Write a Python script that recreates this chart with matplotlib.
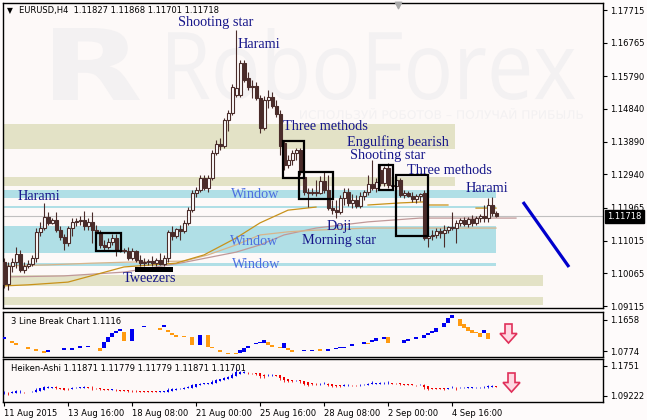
import numpy as np
import matplotlib
matplotlib.use("Agg")
import matplotlib.pyplot as plt
from matplotlib.patches import Rectangle, Polygon, PathPatch
from matplotlib.textpath import TextPath
from matplotlib.font_manager import FontProperties
from matplotlib.transforms import Affine2D

W, H = 647, 420

# EURUSD H4 candles (11 Aug 2015 -> 7 Sep 2015)
opens = [1.1039, 1.0975, 1.1028, 1.1039, 1.1063, 1.1016, 1.1028, 1.1034, 1.1051, 1.1127,
         1.1138, 1.1170, 1.1153, 1.1161, 1.1132, 1.1112, 1.1095, 1.1138, 1.1156, 1.1158,
         1.1161, 1.1144, 1.1156, 1.1132, 1.1124, 1.1089, 1.1083, 1.1097, 1.1109, 1.1074,
         1.1074, 1.1071, 1.1051, 1.1071, 1.1045, 1.1036, 1.1039, 1.1042, 1.1036, 1.1045,
         1.1034, 1.1051, 1.1127, 1.1115, 1.1135, 1.1129, 1.1153, 1.1190, 1.1240, 1.1249,
         1.1283, 1.1254, 1.1283, 1.1356, 1.1382, 1.1376, 1.1452, 1.1472, 1.1525, 1.1525,
         1.1618, 1.1574, 1.1551, 1.1551, 1.1516, 1.1429, 1.1510, 1.1519, 1.1493, 1.1469,
         1.1385, 1.1321, 1.1336, 1.1356, 1.1365, 1.1286, 1.1243, 1.1240, 1.1243, 1.1240,
         1.1275, 1.1249, 1.1196, 1.1190, 1.1185, 1.1225, 1.1243, 1.1211, 1.1220, 1.1202,
         1.1231, 1.1243, 1.1266, 1.1254, 1.1307, 1.1269, 1.1312, 1.1263, 1.1260, 1.1278,
         1.1234, 1.1240, 1.1231, 1.1222, 1.1231, 1.1240, 1.1109, 1.1115, 1.1118, 1.1129,
         1.1124, 1.1132, 1.1141, 1.1138, 1.1153, 1.1161, 1.1150, 1.1164, 1.1153, 1.1167,
         1.1173, 1.1167, 1.1205, 1.11827]
highs = [1.1051, 1.1039, 1.1051, 1.1083, 1.1074, 1.1039, 1.1045, 1.1060, 1.1138, 1.1156,
         1.1211, 1.1185, 1.1167, 1.1185, 1.1144, 1.1121, 1.1144, 1.1167, 1.1167, 1.1173,
         1.1187, 1.1167, 1.1185, 1.1147, 1.1132, 1.1103, 1.1109, 1.1121, 1.1121, 1.1080,
         1.1080, 1.1083, 1.1080, 1.1074, 1.1060, 1.1051, 1.1048, 1.1057, 1.1051, 1.1066,
         1.1060, 1.1132, 1.1144, 1.1138, 1.1147, 1.1161, 1.1199, 1.1249, 1.1257, 1.1292,
         1.1292, 1.1292, 1.1365, 1.1394, 1.1400, 1.1458, 1.1481, 1.1557, 1.1713, 1.1626,
         1.1626, 1.1591, 1.1568, 1.1562, 1.1525, 1.1522, 1.1539, 1.1533, 1.1510, 1.1481,
         1.1394, 1.1350, 1.1365, 1.1371, 1.1371, 1.1292, 1.1254, 1.1254, 1.1278, 1.1289,
         1.1301, 1.1292, 1.1220, 1.1220, 1.1234, 1.1254, 1.1254, 1.1237, 1.1234, 1.1243,
         1.1249, 1.1292, 1.1336, 1.1283, 1.1321, 1.1318, 1.1327, 1.1278, 1.1292, 1.1283,
         1.1249, 1.1246, 1.1243, 1.1237, 1.1240, 1.1249, 1.1127, 1.1132, 1.1138, 1.1138,
         1.1147, 1.1144, 1.1185, 1.1161, 1.1167, 1.1170, 1.1170, 1.1176, 1.1173, 1.1179,
         1.1205, 1.1225, 1.1228, 1.11868]
lows = [1.0964, 1.0958, 1.1010, 1.1022, 1.1010, 1.1007, 1.1022, 1.1028, 1.1039, 1.1115,
        1.1132, 1.1147, 1.1150, 1.1127, 1.1103, 1.1074, 1.1086, 1.1115, 1.1144, 1.1147,
        1.1132, 1.1132, 1.1095, 1.1118, 1.1080, 1.1074, 1.1077, 1.1089, 1.1057, 1.1068,
        1.1066, 1.1045, 1.1045, 1.1039, 1.1028, 1.1028, 1.1031, 1.1028, 1.1028, 1.1031,
        1.1028, 1.1039, 1.1103, 1.1109, 1.1103, 1.1124, 1.1147, 1.1185, 1.1228, 1.1243,
        1.1249, 1.1243, 1.1278, 1.1350, 1.1365, 1.1371, 1.1420, 1.1467, 1.1519, 1.1519,
        1.1562, 1.1539, 1.1516, 1.1510, 1.1414, 1.1423, 1.1487, 1.1487, 1.1461, 1.1350,
        1.1307, 1.1312, 1.1321, 1.1336, 1.1292, 1.1234, 1.1199, 1.1234, 1.1231, 1.1237,
        1.1240, 1.1190, 1.1179, 1.1167, 1.1179, 1.1205, 1.1202, 1.1196, 1.1196, 1.1196,
        1.1220, 1.1234, 1.1249, 1.1243, 1.1260, 1.1260, 1.1254, 1.1254, 1.1249, 1.1228,
        1.1225, 1.1228, 1.1214, 1.1211, 1.1217, 1.1103, 1.1083, 1.1103, 1.1109, 1.1109,
        1.1083, 1.1124, 1.1132, 1.1095, 1.1144, 1.1144, 1.1141, 1.1144, 1.1147, 1.1156,
        1.1156, 1.1156, 1.1173, 1.11701]
closes = [1.0975, 1.1028, 1.1039, 1.1063, 1.1016, 1.1028, 1.1034, 1.1051, 1.1127, 1.1138,
          1.1170, 1.1153, 1.1161, 1.1132, 1.1112, 1.1095, 1.1138, 1.1156, 1.1158, 1.1161,
          1.1144, 1.1156, 1.1132, 1.1124, 1.1089, 1.1083, 1.1097, 1.1109, 1.1074, 1.1072,
          1.1071, 1.1051, 1.1071, 1.1045, 1.1036, 1.1039, 1.1042, 1.1036, 1.1045, 1.1034,
          1.1051, 1.1127, 1.1115, 1.1135, 1.1129, 1.1153, 1.1190, 1.1240, 1.1249, 1.1283,
          1.1254, 1.1283, 1.1356, 1.1382, 1.1376, 1.1452, 1.1472, 1.1548, 1.1545, 1.1618,
          1.1568, 1.1548, 1.1548, 1.1516, 1.1429, 1.1510, 1.1519, 1.1493, 1.1469, 1.1376,
          1.1321, 1.1336, 1.1356, 1.1365, 1.1301, 1.1243, 1.1240, 1.1243, 1.1240, 1.1275,
          1.1249, 1.1196, 1.1190, 1.1185, 1.1225, 1.1243, 1.1211, 1.1220, 1.1202, 1.1231,
          1.1243, 1.1266, 1.1254, 1.1272, 1.1269, 1.1312, 1.1263, 1.1260, 1.1278, 1.1234,
          1.1240, 1.1231, 1.1222, 1.1231, 1.1237, 1.1109, 1.1115, 1.1118, 1.1129, 1.1124,
          1.1132, 1.1141, 1.1138, 1.1153, 1.1161, 1.1150, 1.1164, 1.1153, 1.1167, 1.1173,
          1.1167, 1.1205, 1.1182, 1.11718]

# moving averages (sampled where they are visible)
ma_gold_bar = [0, 6, 16, 30, 43, 50, 58, 64, 71, 78, 84, 91, 99, 105, 106, 111, 114, 118, 123]
ma_gold = [1.0970, 1.0973, 1.0981, 1.1025, 1.1036, 1.1060, 1.1109, 1.1153, 1.1190, 1.1199,
           np.nan, 1.1205, 1.1211, 1.1214, 1.1205, 1.1205, np.nan, 1.1196, 1.1196]
ma_rosy_bar = [0, 15, 30, 44, 58, 64, 70, 78, 91, 104, 128]
ma_rosy = [1.0996, 1.0999, 1.1010, 1.1036, 1.1068, 1.1089, 1.1118, 1.1138, 1.1156, 1.1167, 1.1167]
ma_tan_bar = [0, 11, 22, 31, 45, 51, 58, 64, 71, 78, 91, 123]
ma_tan = [1.1028, 1.1031, 1.1036, 1.1039, 1.1042, 1.1060, 1.1089, 1.1118, 1.1127, 1.1132, 1.1138, 1.1138]

# support / resistance zones
zone_top = [1.1440, 1.1286, 1.1002, 1.0938, 1.1249, 1.1202, 1.1144, 1.1036]
zone_bot = [1.1368, 1.1260, 1.0970, 1.0915, 1.1225, 1.1196, 1.1066, 1.1028]
zone_end = [112.75, 112.75, 134.75, 134.75, 123.0, 123.0, 123.0, 123.0]
zone_kind = ["sand", "sand", "sand", "sand", "sky", "sky", "sky", "sky"]

# 3 line break blocks
lb_bar = [0, 2, 3, 6, 8, 10, 11, 15, 17, 19, 21, 24, 25, 26, 27, 28, 29, 30, 32, 35,
          39, 40, 41, 42, 43, 45, 47, 49, 51, 52, 54, 56, 58, 59, 60, 61, 63, 64, 65, 66,
          67, 69, 70, 71, 72, 75, 77, 79, 81, 83, 84, 85, 87, 90, 91, 92, 93, 95, 96, 100,
          101, 103, 105, 106, 107, 108, 110, 111, 112, 114, 115, 116, 117, 118, 119, 120, 121]
lb_top = [1.1174, 1.1060, 1.1003, 1.0889, 1.0832, 1.0775, 1.0803, 1.0860, 1.0860, 1.0917,
          1.0917, 1.0860, 1.1031, 1.1174, 1.1288, 1.1345, 1.1402, 1.1316, 1.1402, 1.1487,
          1.1430, 1.1516, 1.1373, 1.1288, 1.1231, 1.1202, 1.1174, 1.1231, 1.1231, 1.0889,
          1.0803, 1.0718, 1.0718, 1.0803, 1.0860, 1.0917, 1.1003, 1.1031, 1.1088, 1.1031,
          1.0946, 1.0889, 1.1003, 1.0860, 1.0803, 1.0803, 1.0803, 1.0832, 1.0832, 1.0860,
          1.0889, 1.0889, 1.0974, 1.1031, 1.1003, 1.1088, 1.1145, 1.1174, 1.1174, 1.1088,
          1.1117, 1.1174, 1.1231, 1.1288, 1.1345, 1.1430, 1.1573, 1.1715, 1.1800, 1.1687,
          1.1544, 1.1459, 1.1373, 1.1316, 1.1288, 1.1373, 1.1288]
lb_bot = [1.1117, 1.1003, 1.0946, 1.0832, 1.0775, 1.0718, 1.0746, 1.0803, 1.0803, 1.0860,
          1.0889, 1.0775, 1.0860, 1.1031, 1.1174, 1.1288, 1.1345, 1.1060, 1.1060, 1.1459,
          1.1373, 1.1459, 1.1316, 1.1231, 1.1174, 1.1174, 1.0946, 1.0946, 1.0889, 1.0860,
          1.0746, 1.0689, 1.0689, 1.0718, 1.0746, 1.0860, 1.0974, 1.1003, 1.1003, 1.0946,
          1.0889, 1.0860, 1.0860, 1.0803, 1.0746, 1.0775, 1.0775, 1.0775, 1.0775, 1.0832,
          1.0860, 1.0860, 1.0917, 1.0974, 1.0974, 1.1031, 1.1060, 1.1117, 1.1003, 1.1003,
          1.1060, 1.1117, 1.1145, 1.1231, 1.1288, 1.1316, 1.1459, 1.1573, 1.1715, 1.1487,
          1.1430, 1.1345, 1.1288, 1.1288, 1.1174, 1.1288, 1.1117]
lb_up = [1, 0, 0, 0, 0, 0, 1, 1, 1, 1, 1, 0, 1, 1, 1, 1, 1, 0, 1, 1,
         0, 1, 0, 0, 0, 0, 0, 1, 0, 0, 0, 0, 0, 1, 1, 1, 1, 1, 1, 0,
         0, 0, 1, 0, 0, 1, 1, 0, 1, 1, 1, 1, 1, 1, 0, 1, 1, 1, 0, 1,
         1, 1, 1, 1, 1, 1, 1, 1, 1, 0, 0, 0, 0, 0, 0, 1, 0]

price_ticks = [1.17715, 1.16765, 1.15790, 1.14840, 1.13890, 1.12940, 1.11965, 1.11015, 1.10065, 1.09115]
time_tick_bars = [0, 16, 32, 48, 64, 80, 96, 112]
time_labels = ["11 Aug 2015", "13 Aug 16:00", "18 Aug 08:00", "21 Aug 00:00",
               "25 Aug 16:00", "28 Aug 08:00", "2 Sep 00:00", "4 Sep 16:00"]
last_price = 1.11718

BG = "#fdf9f8"
CANDLE = "#4a2c2a"
NAVY = "#16168a"
WINDOW = "#4c6fe0"
MARK = "#f3f1f2"


def px_bar(xp):
    return (xp - 4) / 4.0


def px_price(yp):
    return 1.18006 - 0.00029054 * yp


def fig_pt(xp, yp):
    return xp / W, 1 - yp / H


def fit_text(ax, s, box, color, family, weight="normal"):
    x0, y0, x1, y1 = box
    tp = TextPath((0, 0), s, size=10, prop=FontProperties(family=family, weight=weight))
    ext = tp.get_extents()
    tr = (Affine2D().translate(-ext.x0, -ext.y0)
          .scale((x1 - x0) / ext.width / W, (y1 - y0) / ext.height / H)
          .translate(x0 / W, 1 - y1 / H) + ax.figure.transFigure)
    ax.add_patch(PathPatch(tp, transform=tr, facecolor=color, edgecolor="none", zorder=0.5))


def down_arrow(fig, x0, x1, ytop, ybot):
    xc = (x0 + x1) / 2
    ym = ytop + (ybot - ytop) * 0.5
    pts = [(xc - 3.5, ytop), (xc + 3.5, ytop), (xc + 3.5, ym), (x1, ym), (xc, ybot),
           (x0, ym), (xc - 3.5, ym)]
    fig.add_artist(Polygon([fig_pt(*p) for p in pts], closed=True, transform=fig.transFigure,
                           facecolor="#ffd8e2", edgecolor="#e0305a", lw=1.2, zorder=5))


def style_panel(ax):
    ax.set_facecolor(BG)
    for s in ax.spines.values():
        s.set_color("black")
        s.set_linewidth(1.0)
    ax.yaxis.tick_right()
    ax.tick_params(axis="y", direction="out", length=3, width=0.8, labelsize=6, pad=2)
    ax.set_xlim(-0.25, 149.75)


fig = plt.figure(figsize=(W / 100, H / 100), dpi=100, facecolor="#fefbfb")
ax = fig.add_axes([3 / W, 1 - 308 / H, 600 / W, 305 / H])
ax2 = fig.add_axes([3 / W, 1 - 357 / H, 600 / W, 45 / H])
ax3 = fig.add_axes([3 / W, 1 - 402 / H, 600 / W, 43 / H])
for a in (ax, ax2, ax3):
    style_panel(a)

# ---- main panel ----
ax.set_ylim(px_price(308), px_price(3))
ax.set_yticks(price_ticks)
ax.set_yticklabels(["%.5f" % v for v in price_ticks])
ax.set_xticks([])

# watermark
fit_text(ax, "R", (53, 28, 140, 100), MARK, "DejaVu Sans", "bold")
fit_text(ax, "RoboForex", (168, 28, 575, 100), MARK, "Open Sans")
fit_text(ax, "ИСПОЛЬЗУЙ РОБОТОВ – ПОЛУЧАЙ ПРИБЫЛЬ", (300, 108, 583, 119), MARK, "DejaVu Sans")

for t, b, e, k in zip(zone_top, zone_bot, zone_end, zone_kind):
    ax.add_patch(Rectangle((-0.25, b), e + 0.25, t - b, facecolor="#e3e2c6" if k == "sand" else "#b0dfe6",
                           edgecolor="none", zorder=1))

ax.axhline(last_price, color="#c0c0c0", lw=0.8, zorder=1.5)
ax.plot(ma_rosy_bar, ma_rosy, color="#c09898", lw=0.9, zorder=2)
ax.plot(ma_tan_bar, ma_tan, color="#d8b48a", lw=0.9, zorder=2)
ax.plot(ma_gold_bar, ma_gold, color="#c8921a", lw=0.9, zorder=2)

x = np.arange(len(closes))
o, h, l, c = (np.array(v) for v in (opens, highs, lows, closes))
rising = c >= o
ax.vlines(x, l, h, color=CANDLE, lw=0.8, zorder=3)
ax.bar(x, np.maximum(np.abs(c - o), 0.00006), bottom=np.minimum(o, c), width=0.75,
       color=np.where(rising, "white", CANDLE), edgecolor=CANDLE, linewidth=0.8, zorder=4)

# pattern boxes
boxes = [(96, 233, 121, 251), (283, 141, 304, 178), (299, 172, 333, 199),
         (379, 165, 393, 190), (396, 175, 428, 236)]
for x0, y0, x1, y1 in boxes:
    ax.add_patch(Rectangle((px_bar(x0), px_price(y1)), px_bar(x1) - px_bar(x0),
                           px_price(y0) - px_price(y1), fill=False, edgecolor="black", lw=1.6, zorder=5))
ax.add_patch(Rectangle((px_bar(135), px_price(272)), px_bar(173) - px_bar(135),
                       px_price(267) - px_price(272), facecolor="black", edgecolor="none", zorder=5))

labels = [("Shooting star", 178, 22, NAVY), ("Harami", 238, 44, NAVY),
          ("Three methods", 283, 127, NAVY), ("Engulfing bearish", 347, 142, NAVY),
          ("Shooting star", 350, 155, NAVY), ("Three methods", 407, 170, NAVY),
          ("Harami", 466, 188, NAVY), ("Harami", 18, 196, NAVY),
          ("Window", 231, 194, WINDOW), ("Window", 230, 241, WINDOW), ("Window", 232, 265, WINDOW),
          ("Doji", 327, 226, NAVY), ("Morning star", 302, 240, NAVY), ("Tweezers", 123, 278, NAVY)]
for s, xp, yp, col in labels:
    ax.text(px_bar(xp), px_price(yp), s, color=col, fontsize=10.3, family="Liberation Serif",
            ha="left", va="center", zorder=6)

ax.plot([px_bar(523), px_bar(569)], [px_price(202), px_price(267)], color="#0000cc", lw=2.3,
        solid_capstyle="butt", zorder=6)
ax.scatter([px_bar(398)], [px_price(5)], marker="v", s=22, color="#a8a8a8", zorder=6, clip_on=False)

fig.text(*fig_pt(7, 10.5), "▼", fontsize=5.5, va="center", ha="left")
fig.text(*fig_pt(19, 10.5), "EURUSD,H4  1.11827 1.11868 1.11701 1.11718", fontsize=6.0,
         va="center", ha="left")
fig.text(*fig_pt(607, 216.5), "%.5f" % last_price, color="white", fontsize=6, va="center",
         ha="left", bbox=dict(facecolor="black", edgecolor="black", pad=1.6))

# ---- 3 line break panel ----
ax2.set_ylim(1.0603, 1.1886)
ax2.set_yticks([1.1658, 1.0774])
ax2.set_yticklabels(["1.1658", "1.0774"])
ax2.set_xticks([])
lb_top_a, lb_bot_a = np.array(lb_top), np.array(lb_bot)
ax2.bar(lb_bar, lb_top_a - lb_bot_a, bottom=lb_bot_a, width=0.9,
        color=["#0000f0" if u else "#ff9a10" for u in lb_up], zorder=3)
ax2.text(8 / 600, 0.78, "3 Line Break Chart 1.1116", transform=ax2.transAxes, fontsize=6,
         va="center", ha="left")
down_arrow(fig, 500, 517, 324, 343)

# ---- heiken ashi panel ----
ha_c = (o + h + l + c) / 4
ha_o = np.empty_like(ha_c)
ha_o[0] = (o[0] + c[0]) / 2
for i in range(1, len(ha_c)):
    ha_o[i] = (ha_o[i - 1] + ha_c[i - 1]) / 2
ha_h = np.maximum.reduce([h, ha_o, ha_c])
ha_l = np.minimum.reduce([l, ha_o, ha_c])
ha_col = np.where(ha_c >= ha_o, "#0000f0", "#f00000")
ax3.set_ylim(1.0756, 1.1944)
ax3.set_yticks([1.1751, 1.09222])
ax3.set_yticklabels(["1.1751", "1.09222"])
ax3.vlines(x, ha_l, ha_h, colors=ha_col, lw=0.6, zorder=3)
ax3.bar(x, np.maximum(np.abs(ha_c - ha_o), 0.0008), bottom=np.minimum(ha_o, ha_c), width=0.65,
        color=ha_col, zorder=4)
ax3.text(8 / 600, 0.78, "Heiken-Ashi 1.11871 1.11779 1.11779 1.11871 1.11701",
         transform=ax3.transAxes, fontsize=6, va="center", ha="left")
down_arrow(fig, 503, 520, 373, 392)
ax3.set_xticks(time_tick_bars)
ax3.set_xticklabels(time_labels, ha="left")
ax3.tick_params(axis="x", direction="out", length=3, width=0.8, labelsize=6, pad=2)

fig.savefig("out.png", dpi=100, facecolor=fig.get_facecolor())
